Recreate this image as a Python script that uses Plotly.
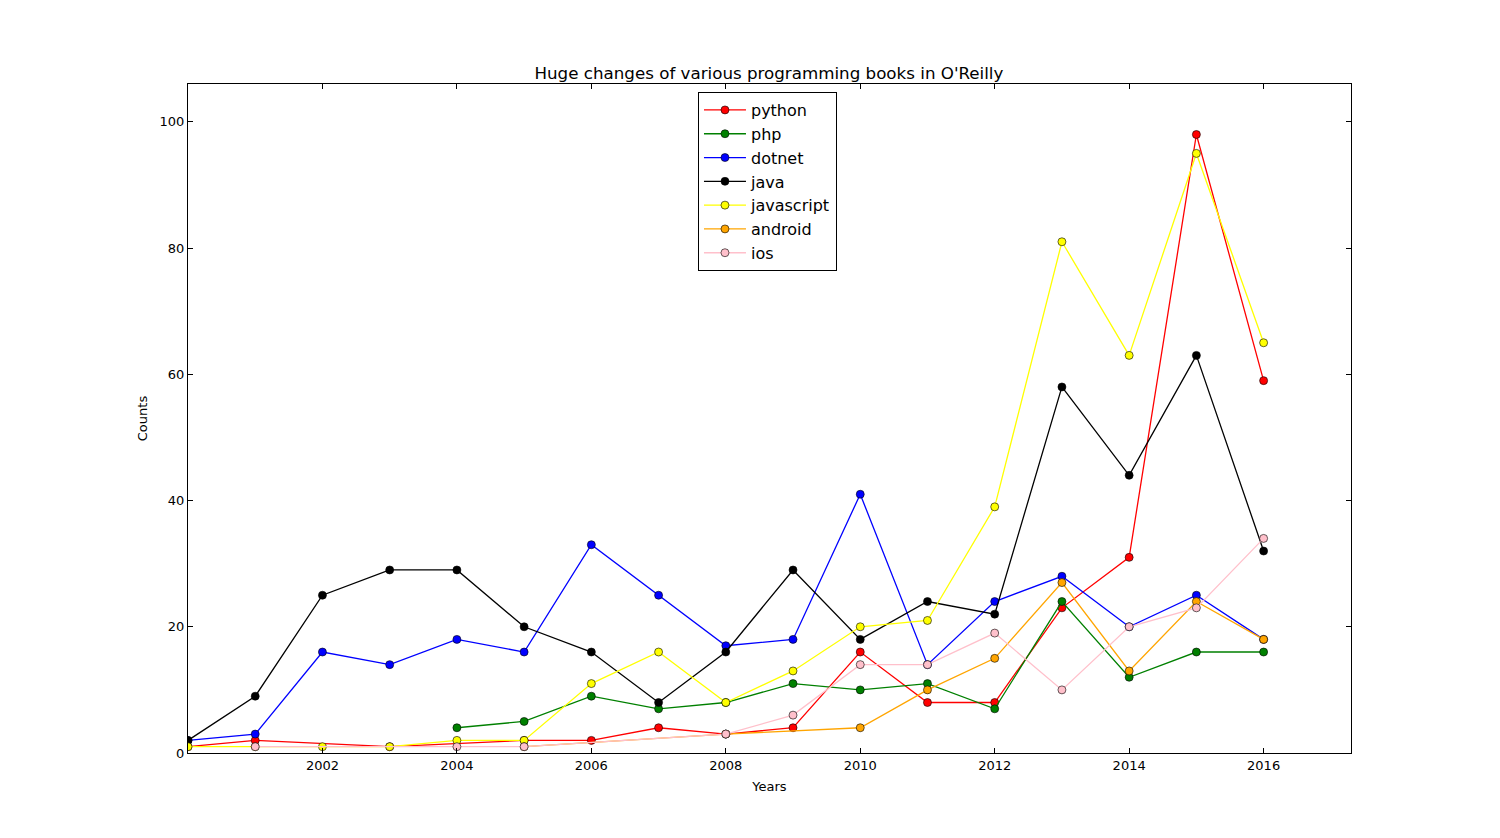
import plotly.graph_objects as go

title = "Huge changes of various programming books in O'Reilly"

python_years = [2000, 2001, 2003, 2005, 2006, 2007, 2008, 2009, 2010, 2011, 2012, 2013, 2014, 2015, 2016]
python_vals = [1, 2, 1, 2, 2, 4, 3, 4, 16, 8, 8, 23, 31, 98, 59]

php_years = [2004, 2005, 2006, 2007, 2008, 2009, 2010, 2011, 2012, 2013, 2014, 2015, 2016]
php_vals = [4, 5, 9, 7, 8, 11, 10, 11, 7, 24, 12, 16, 16]

dotnet_years = list(range(2000, 2017))
dotnet_vals = [2, 3, 16, 14, 18, 16, 33, 25, 17, 18, 41, 14, 24, 28, 20, 25, 18]

java_years = list(range(2000, 2017))
java_vals = [2, 9, 25, 29, 29, 20, 16, 8, 16, 29, 18, 24, 22, 58, 44, 63, 32]

js_years = list(range(2000, 2017))
js_vals = [1, 1, 1, 1, 2, 2, 11, 16, 8, 13, 20, 21, 39, 81, 63, 95, 65]

android_years = [2005, 2008, 2010, 2011, 2012, 2013, 2014, 2015, 2016]
android_vals = [1, 3, 4, 10, 15, 27, 13, 24, 18]

ios_years = [2001, 2004, 2005, 2008, 2009, 2010, 2011, 2012, 2013, 2014, 2015, 2016]
ios_vals = [1, 1, 1, 3, 6, 14, 14, 19, 10, 20, 23, 34]

series = [
    ("python", python_years, python_vals, "#ff0000"),
    ("php", php_years, php_vals, "#008000"),
    ("dotnet", dotnet_years, dotnet_vals, "#0000ff"),
    ("java", java_years, java_vals, "#000000"),
    ("javascript", js_years, js_vals, "#ffff00"),
    ("android", android_years, android_vals, "#ffa500"),
    ("ios", ios_years, ios_vals, "#ffc0cb"),
]

x_ticks = [2002, 2004, 2006, 2008, 2010, 2012, 2014, 2016]
y_ticks = [0, 20, 40, 60, 80, 100]

fig = go.Figure()
for name, xs, ys, col in series:
    fig.add_trace(go.Scatter(
        x=xs, y=ys, name=name, mode="lines+markers",
        line=dict(color=col, width=1.3),
        marker=dict(color=col, size=8, line=dict(color="black", width=0.6)),
    ))

font = "DejaVu Sans, sans-serif"
fig.update_layout(
    width=1500, height=838,
    paper_bgcolor="white", plot_bgcolor="white",
    margin=dict(l=180, r=157, t=76, b=93),
    font=dict(family=font, size=13, color="black"),
    title=dict(text=title, x=0.5073, xanchor="center", y=1 - 65 / 838, yanchor="middle",
               font=dict(size=16.7, family=font, color="black")),
    showlegend=True,
    legend=dict(x=0.4385, y=0.988, xanchor="left", yanchor="top",
                bgcolor="white", bordercolor="black", borderwidth=1,
                font=dict(size=16, family=font, color="black"),
                itemwidth=42, tracegroupgap=0),
    xaxis=dict(range=[2000, 2017.3], tickvals=x_ticks, ticktext=[str(v) for v in x_ticks],
               ticks="inside", ticklen=5, tickcolor="black", showgrid=False, zeroline=False,
               showline=True, linecolor="black", linewidth=1, mirror="ticks",
               title=dict(text="Years", font=dict(size=13, family=font), standoff=10)),
    yaxis=dict(range=[0, 106], tickvals=y_ticks,
               ticks="inside", ticklen=5, tickcolor="black", showgrid=False, zeroline=False,
               showline=True, linecolor="black", linewidth=1, mirror="ticks",
               title=dict(text="Counts", font=dict(size=13, family=font), standoff=9)),
)

fig.write_html("out.html")
